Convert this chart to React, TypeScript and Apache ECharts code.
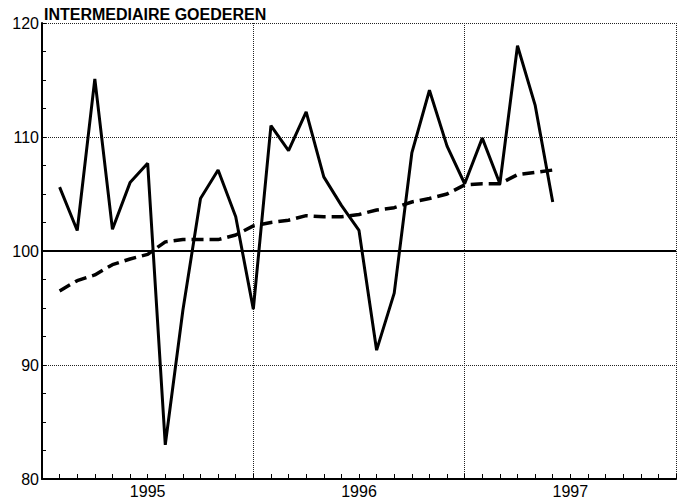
import React, { useEffect, useRef } from "react";
import * as echarts from "echarts";

// Monthly index (months since start of 1995 axis); first observation at month 1
const firstMonth = 1;
const actualValues = [
  105.6, 101.8, 115.1, 101.9, 106.0, 107.7, 83.0, 94.8, 104.6, 107.1, 103.0, 94.9,
  111.0, 108.8, 112.2, 106.5, 104.0, 101.8, 91.3, 96.3, 108.6, 114.1, 109.2, 105.9,
  109.9, 105.9, 118.0, 112.8, 104.3,
];
const trendValues = [
  96.5, 97.4, 97.9, 98.8, 99.3, 99.7, 100.8, 101.0, 101.0, 101.0, 101.4, 102.2,
  102.5, 102.7, 103.1, 103.0, 103.0, 103.2, 103.6, 103.8, 104.3, 104.6, 105.0, 105.8,
  105.9, 105.9, 106.7, 106.9, 107.1,
];
const yearLabels = ["1995", "1996", "1997"];
const monthsPerYear = 12;
const yTicks = { min: 80, max: 120, interval: 10 };
const referenceLevel = 100;
const titleText = "INTERMEDIAIRE GOEDEREN";

const FONT = "'Liberation Sans', Arial, Helvetica, sans-serif";

export default function App() {
  const ref = useRef<HTMLDivElement>(null);

  useEffect(() => {
    if (!ref.current) return;
    const chart = echarts.init(ref.current, undefined, { renderer: "svg" });
    const totalMonths = yearLabels.length * monthsPerYear;
    const toPairs = (vals: number[]) => vals.map((v, i) => [firstMonth + i, v]);
    const labelAt: Record<number, string> = {};
    yearLabels.forEach((y, i) => {
      labelAt[i * monthsPerYear + monthsPerYear / 2] = y;
    });

    chart.setOption({
      animation: false,
      backgroundColor: "#ffffff",
      graphic: [
        {
          type: "text",
          x: 44,
          y: 6,
          silent: true,
          style: {
            text: titleText,
            fontFamily: FONT,
            fontSize: 16,
            fontWeight: "bold",
            fill: "#000",
            align: "left",
            verticalAlign: "top",
          },
        },
      ],
      grid: { left: 42, right: 8, top: 23, bottom: 21, containLabel: false },
      xAxis: [
        {
          type: "value",
          min: 0,
          max: totalMonths,
          interval: 1,
          axisLine: { show: true, lineStyle: { color: "#000", width: 2 } },
          axisTick: { show: true, inside: true, length: 5, lineStyle: { color: "#000", width: 1 } },
          axisLabel: {
            show: true,
            margin: 4,
            fontFamily: FONT,
            fontSize: 16,
            color: "#000",
            showMinLabel: true,
            showMaxLabel: true,
            formatter: (v: number) => labelAt[Math.round(v)] ?? "",
          },
          splitLine: { show: false },
        },
        {
          type: "value",
          min: 0,
          max: totalMonths,
          interval: monthsPerYear,
          position: "bottom",
          axisLine: { show: false },
          axisTick: { show: false },
          axisLabel: { show: false },
          splitLine: { show: true, lineStyle: { color: "#222", width: 1, type: [1, 1] } },
        },
      ],
      yAxis: {
        type: "value",
        min: yTicks.min,
        max: yTicks.max,
        interval: yTicks.interval,
        axisLine: { show: true, lineStyle: { color: "#000", width: 2 } },
        axisTick: { show: true, inside: true, length: 4, lineStyle: { color: "#000", width: 1 } },
        minorTick: { show: true, splitNumber: 4, length: 4, lineStyle: { color: "#000", width: 1 } },
        axisLabel: { margin: 3, fontFamily: FONT, fontSize: 16, color: "#000" },
        splitLine: { show: true, lineStyle: { color: "#222", width: 1, type: [1, 1] } },
      },
      series: [
        {
          type: "line",
          xAxisIndex: 0,
          data: toPairs(trendValues),
          symbol: "none",
          lineStyle: { color: "#000", width: 3.5, type: [12, 6] },
          z: 3,
          markLine: {
            silent: true,
            symbol: "none",
            label: { show: false },
            lineStyle: { color: "#000", width: 2, type: "solid" },
            data: [{ yAxis: referenceLevel }],
          },
        },
        {
          type: "line",
          xAxisIndex: 0,
          data: toPairs(actualValues),
          symbol: "none",
          lineStyle: { color: "#000", width: 3 },
          z: 4,
        },
      ],
    });
    return () => chart.dispose();
  }, []);

  return (
    <div
      ref={ref}
      style={{ position: "fixed", left: 0, top: 0, width: 684, height: 500, background: "#fff" }}
    />
  );
}
